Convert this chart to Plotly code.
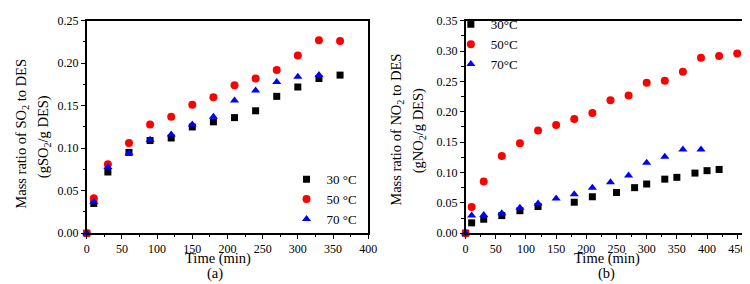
import plotly.graph_objects as go

# Panel (a): SO2
t_a_30 = [0, 10, 30, 60, 90, 120, 150, 180, 210, 240, 270, 300, 330, 360]
so2_30 = [0, 0.035, 0.072, 0.095, 0.109, 0.112, 0.125, 0.131, 0.136, 0.144, 0.161, 0.172, 0.182, 0.186]
t_a_50 = [0, 10, 30, 60, 90, 120, 150, 180, 210, 240, 270, 300, 330, 360]
so2_50 = [0, 0.041, 0.081, 0.106, 0.128, 0.137, 0.151, 0.160, 0.174, 0.182, 0.192, 0.209, 0.227, 0.226]
t_a_70 = [0, 10, 30, 60, 90, 120, 150, 180, 210, 240, 270, 300, 330]
so2_70 = [0, 0.037, 0.078, 0.094, 0.110, 0.116, 0.128, 0.137, 0.156, 0.168, 0.178, 0.184, 0.186]

# Panel (b): NO2
t_b_30 = [0, 10, 30, 60, 90, 120, 180, 210, 250, 280, 300, 330, 350, 380, 400, 420]
no2_30 = [0, 0.017, 0.023, 0.029, 0.037, 0.044, 0.051, 0.060, 0.067, 0.075, 0.081, 0.089, 0.092, 0.099, 0.103, 0.105]
t_b_50 = [0, 10, 30, 60, 90, 120, 150, 180, 210, 240, 270, 300, 330, 360, 390, 420, 450]
no2_50 = [0, 0.043, 0.085, 0.127, 0.148, 0.169, 0.178, 0.188, 0.198, 0.219, 0.227, 0.248, 0.251, 0.266, 0.289, 0.292, 0.296]
t_b_70 = [0, 10, 30, 60, 90, 120, 150, 180, 210, 240, 270, 300, 330, 360, 390]
no2_70 = [0, 0.029, 0.030, 0.033, 0.042, 0.049, 0.057, 0.064, 0.075, 0.084, 0.095, 0.116, 0.126, 0.138, 0.138]

x_ticks_a = [0, 50, 100, 150, 200, 250, 300, 350, 400]
x_ticks_b = [0, 50, 100, 150, 200, 250, 300, 350, 400, 450]
y_ticks_a = [0.00, 0.05, 0.10, 0.15, 0.20, 0.25]
y_ticks_b = [0.00, 0.05, 0.10, 0.15, 0.20, 0.25, 0.30, 0.35]

FONT = "Liberation Serif, Times New Roman, serif"
W, H = 750, 284

fig = go.Figure()

def add(x, y, name, color, symbol, size, xa, ya, leg):
    fig.add_trace(go.Scatter(x=x, y=y, mode="markers", name=name, xaxis=xa, yaxis=ya,
                             legend=leg, cliponaxis=False,
                             marker=dict(color=color, symbol=symbol, size=size, line=dict(width=0))))

add(t_a_30, so2_30, "30 °C", "black", "square", 7, "x", "y", "legend")
add(t_a_50, so2_50, "50 °C", "red", "circle", 8, "x", "y", "legend")
add(t_a_70, so2_70, "70 °C", "blue", "triangle-up", 8, "x", "y", "legend")
add(t_b_30, no2_30, "30°C", "black", "square", 7, "x2", "y2", "legend2")
add(t_b_50, no2_50, "50°C", "red", "circle", 8, "x2", "y2", "legend2")
add(t_b_70, no2_70, "70°C", "blue", "triangle-up", 8, "x2", "y2", "legend2")

def px_x(p):
    return p / W
def px_y(p):
    return 1 - p / H

axis_common = dict(showline=True, linecolor="black", linewidth=1.5, mirror=True,
                   ticks="outside", ticklen=4, tickwidth=1.3, tickcolor="black",
                   showgrid=False, zeroline=False,
                   tickfont=dict(family=FONT, size=12, color="black"),
                   minor=dict(ticks="outside", ticklen=2.5, tickwidth=1.2, tickcolor="black", showgrid=False))

yd = [px_y(229.5), px_y(6)]
fig.update_layout(
    width=W, height=H,
    margin=dict(l=0, r=0, t=0, b=0),
    paper_bgcolor="white", plot_bgcolor="white",
    font=dict(family=FONT, color="black"),
    xaxis=dict(domain=[px_x(77), px_x(363)], range=[0, 400.01], tickvals=x_ticks_a,
               anchor="y", minor_dtick=25, **axis_common),
    yaxis=dict(domain=yd, range=[0, 0.25001], tickvals=y_ticks_a, tickformat=".2f",
               anchor="x", minor_dtick=0.025, **axis_common),
    xaxis2=dict(domain=[px_x(462), px_x(746)], range=[0, 463], tickvals=x_ticks_b,
                anchor="y2", minor_dtick=25, **axis_common),
    yaxis2=dict(domain=yd, range=[0, 0.35001], tickvals=y_ticks_b, tickformat=".2f",
                anchor="x2", minor_dtick=0.025, **axis_common),
    legend=dict(x=px_x(280), y=px_y(157), xanchor="left", yanchor="top",
                bgcolor="rgba(0,0,0,0)", font=dict(family=FONT, size=13),
                tracegroupgap=0),
    legend2=dict(x=px_x(447), y=px_y(-6), xanchor="left", yanchor="top",
                 bgcolor="rgba(0,0,0,0)", font=dict(family=FONT, size=13),
                 tracegroupgap=0),
)

ann_font = dict(family=FONT, size=14.5, color="black")
anns = [
    dict(text="Mass ratio of SO<sub>2</sub> to DES", x=px_x(11), y=px_y(125), textangle=-90),
    dict(text="(gSO<sub>2</sub>/g DES)", x=px_x(33), y=px_y(128), textangle=-90),
    dict(text="Mass ratio of NO<sub>2</sub> to DES", x=px_x(392), y=px_y(121), textangle=-90),
    dict(text="(gNO<sub>2</sub>/g DES)", x=px_x(415), y=px_y(122), textangle=-90),
    dict(text="Time (min)", x=px_x(210), y=px_y(256), textangle=0),
    dict(text="(a)", x=px_x(207), y=px_y(272), textangle=0),
    dict(text="Time (min)", x=px_x(606), y=px_y(256), textangle=0),
    dict(text="(b)", x=px_x(605), y=px_y(272), textangle=0),
]
for a in anns:
    fig.add_annotation(xref="paper", yref="paper", showarrow=False, font=ann_font,
                       xanchor="center", yanchor="middle", **a)

fig.write_html("out.html")
